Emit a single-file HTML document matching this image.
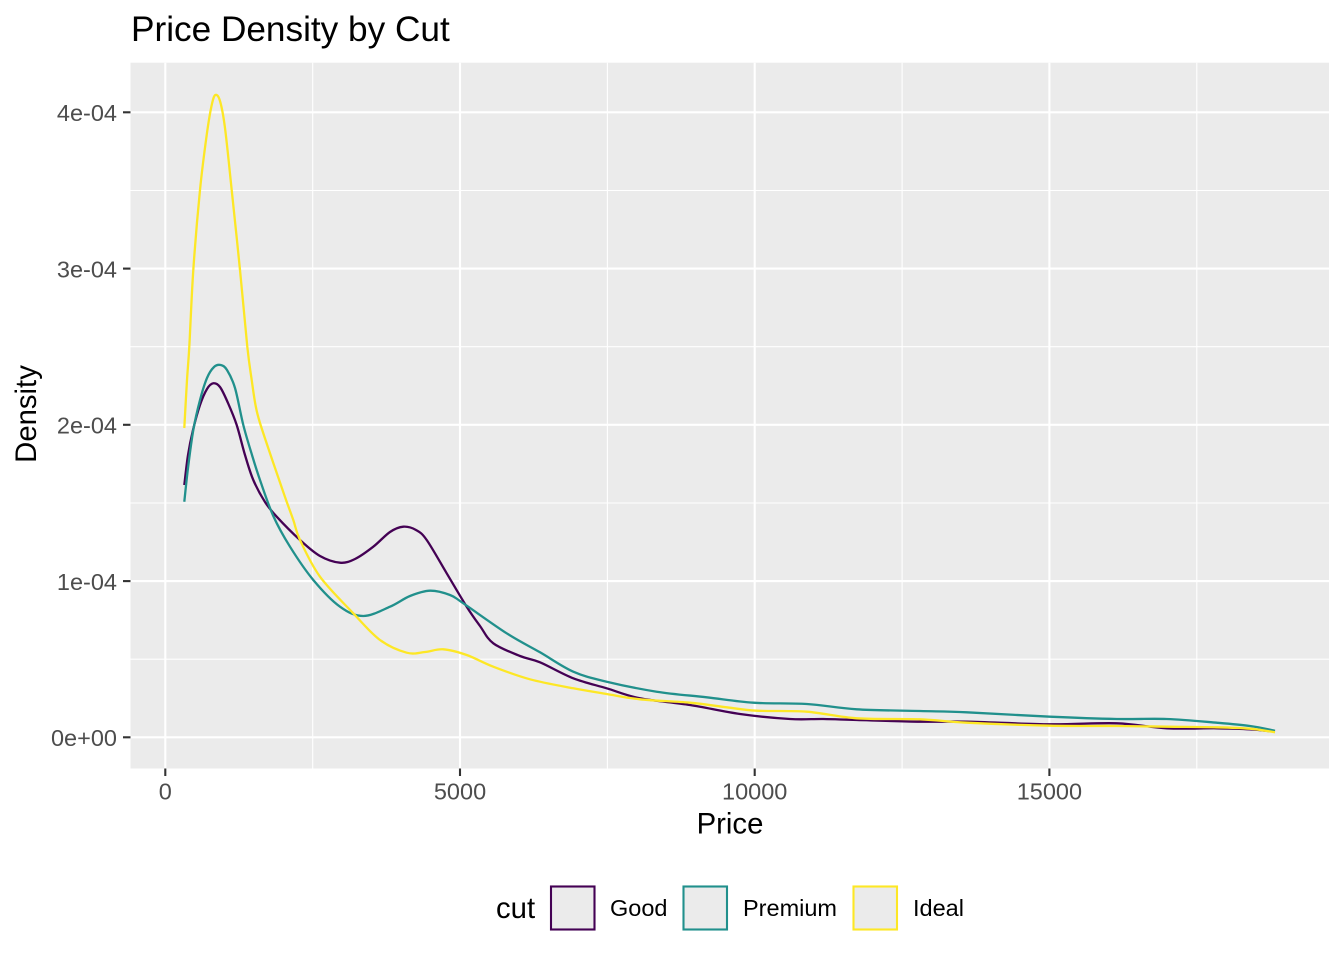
<!DOCTYPE html>
<html>
<head>
<meta charset="utf-8">
<style>
  html, body { margin:0; padding:0; background:#ffffff; }
  svg { display:block; }
  text { font-family: "Liberation Sans", Arial, sans-serif; }
</style>
</head>
<body>
<svg id="chart" width="1344" height="960" viewBox="0 0 1344 960" xmlns="http://www.w3.org/2000/svg">
  <rect x="0" y="0" width="1344" height="960" fill="#ffffff"/>
  <!-- panel -->
  <rect x="130.5" y="62.7" width="1198.5" height="705.8" fill="#EBEBEB"/>
  <!-- minor grid -->
  <g stroke="#ffffff" stroke-width="1.1">
    <line x1="130.5" x2="1329" y1="659.2" y2="659.2"/>
    <line x1="130.5" x2="1329" y1="503.0" y2="503.0"/>
    <line x1="130.5" x2="1329" y1="346.7" y2="346.7"/>
    <line x1="130.5" x2="1329" y1="190.5" y2="190.5"/>
    <line x1="312.7" x2="312.7" y1="62.7" y2="768.5"/>
    <line x1="607.4" x2="607.4" y1="62.7" y2="768.5"/>
    <line x1="902.1" x2="902.1" y1="62.7" y2="768.5"/>
    <line x1="1196.8" x2="1196.8" y1="62.7" y2="768.5"/>
  </g>
  <!-- major grid -->
  <g stroke="#ffffff" stroke-width="2.1">
    <line x1="130.5" x2="1329" y1="737.3" y2="737.3"/>
    <line x1="130.5" x2="1329" y1="581.1" y2="581.1"/>
    <line x1="130.5" x2="1329" y1="424.8" y2="424.8"/>
    <line x1="130.5" x2="1329" y1="268.6" y2="268.6"/>
    <line x1="130.5" x2="1329" y1="112.3" y2="112.3"/>
    <line x1="165.3" x2="165.3" y1="62.7" y2="768.5"/>
    <line x1="460.0" x2="460.0" y1="62.7" y2="768.5"/>
    <line x1="754.7" x2="754.7" y1="62.7" y2="768.5"/>
    <line x1="1049.4" x2="1049.4" y1="62.7" y2="768.5"/>
  </g>

  <!-- Good (purple) -->
  <polyline class="curve" fill="none" stroke="#440154" stroke-width="2.3" stroke-linejoin="round" stroke-linecap="butt"
    points="184.3,485 188,455 193,430 200,405 207,389 213.3,383.3 220,387 228,403 236.7,425 245,455 253.3,480 265,502 276.7,516.7 300,540 320,556 340,562.7 355,559 373.3,546.7 390,532 403.3,526.7 416,530 426.7,540 446.7,573.3 466.7,606.7 480,626 493.3,643.3 520,656 540,662.3 573.3,678.3 606.7,688.3 640,698.3 690,705 740,714 790,719 823.3,719 856.7,720 920,721.7 966.7,721.7 1050,724.3 1116.7,723.3 1166.7,728.3 1216.7,728.3 1250,729.3 1275,731.7"/>

  <!-- Premium (teal) -->
  <polyline class="curve" fill="none" stroke="#21908C" stroke-width="2.3" stroke-linejoin="round" stroke-linecap="butt"
    points="184.3,501.7 188,468 193.3,430 200,400 207,378 214,367 220.7,365 227,370 235,388 243.3,425 252,455 260,480 273.3,516 290,546.7 313.3,580 340,606.7 363.3,616 390,606.7 410,596 430,590.7 450,595 463.3,603.3 506.7,633.3 540,652.3 573.3,671.7 606.7,681.7 656.7,691.7 706.7,697.3 753.3,702.7 806.7,704 856.7,709.3 920,711 966.7,712.3 1050,716.7 1116.7,719 1166.7,719 1216.7,722.7 1250,726 1275,730.7"/>

  <!-- Ideal (yellow) -->
  <polyline class="curve" fill="none" stroke="#FDE725" stroke-width="2.3" stroke-linejoin="round" stroke-linecap="butt"
    points="184.3,428 187,380 189.3,346.7 193.3,270 200,190 206.7,135 211.5,106 215.3,95 220,101 225,128 231.7,190 240,270 247.3,346.7 251.7,380 255.5,405 260,423 273.3,463 285,497 293.3,520 300,540 320,576.7 353.3,613.3 380,640 406.7,652.7 425,652 443.3,649.3 466.7,655 493.3,666.7 530,679.3 573.3,688.3 606.7,694 640,699.3 690,702.7 726.7,707.3 756.7,710.7 806.7,711.7 856.7,718.3 920,719.3 966.7,722.7 1050,725.7 1116.7,726 1166.7,726.7 1216.7,727.3 1250,728.7 1275,732.3"/>

  <!-- axis ticks -->
  <g stroke="#333333" stroke-width="2.1">
    <line x1="123" x2="130.5" y1="737.3" y2="737.3"/>
    <line x1="123" x2="130.5" y1="581.1" y2="581.1"/>
    <line x1="123" x2="130.5" y1="424.8" y2="424.8"/>
    <line x1="123" x2="130.5" y1="268.6" y2="268.6"/>
    <line x1="123" x2="130.5" y1="112.3" y2="112.3"/>
    <line x1="165.3" x2="165.3" y1="768.5" y2="776"/>
    <line x1="460.0" x2="460.0" y1="768.5" y2="776"/>
    <line x1="754.7" x2="754.7" y1="768.5" y2="776"/>
    <line x1="1049.4" x2="1049.4" y1="768.5" y2="776"/>
  </g>

  <!-- y tick labels -->
  <g fill="#4D4D4D" font-size="23.5" text-anchor="end">
    <text x="117" y="746">0e+00</text>
    <text x="117" y="589.8">1e-04</text>
    <text x="117" y="433.5">2e-04</text>
    <text x="117" y="277.3">3e-04</text>
    <text x="117" y="121">4e-04</text>
  </g>
  <!-- x tick labels -->
  <g fill="#4D4D4D" font-size="23.5" text-anchor="middle">
    <text x="165.3" y="799.5">0</text>
    <text x="460.0" y="799.5">5000</text>
    <text x="754.7" y="799.5">10000</text>
    <text x="1049.4" y="799.5">15000</text>
  </g>

  <!-- axis titles -->
  <text x="730" y="833.3" font-size="29.3" text-anchor="middle" fill="#000000">Price</text>
  <text transform="translate(36,414) rotate(-90)" font-size="29.3" text-anchor="middle" fill="#000000">Density</text>

  <!-- title -->
  <text x="131" y="41" font-size="35.2" fill="#000000">Price Density by Cut</text>

  <!-- legend -->
  <text x="496" y="918" font-size="29.3" fill="#000000">cut</text>
  <rect x="551" y="886.5" width="43.5" height="43" fill="#EBEBEB" stroke="#440154" stroke-width="2.1"/>
  <text x="610" y="916" font-size="23.5" fill="#000000">Good</text>
  <rect x="683.5" y="886.5" width="43.5" height="43" fill="#EBEBEB" stroke="#21908C" stroke-width="2.1"/>
  <text x="743" y="916" font-size="23.5" fill="#000000">Premium</text>
  <rect x="853.5" y="886.5" width="43.5" height="43" fill="#EBEBEB" stroke="#FDE725" stroke-width="2.1"/>
  <text x="913" y="916" font-size="23.5" fill="#000000">Ideal</text>
</svg>
<script>
(function(){
  try {
    var NS = "http://www.w3.org/2000/svg";
    var lines = document.querySelectorAll("polyline.curve");
    for (var i = 0; i < lines.length; i++) {
      var pl = lines[i];
      var raw = pl.getAttribute("points").trim().split(/\s+/);
      var p = raw.map(function(s){ var a = s.split(","); return [parseFloat(a[0]), parseFloat(a[1])]; });
      var d = "M" + p[0][0] + "," + p[0][1];
      for (var k = 0; k < p.length - 1; k++) {
        var p0 = p[k > 0 ? k - 1 : 0], p1 = p[k], p2 = p[k + 1], p3 = p[k + 2 < p.length ? k + 2 : p.length - 1];
        var t = 6;
        var c1x = p1[0] + (p2[0] - p0[0]) / t, c1y = p1[1] + (p2[1] - p0[1]) / t;
        var c2x = p2[0] - (p3[0] - p1[0]) / t, c2y = p2[1] - (p3[1] - p1[1]) / t;
        d += " C" + c1x.toFixed(2) + "," + c1y.toFixed(2) + " " + c2x.toFixed(2) + "," + c2y.toFixed(2) + " " + p2[0] + "," + p2[1];
      }
      var path = document.createElementNS(NS, "path");
      path.setAttribute("d", d);
      ["fill","stroke","stroke-width","stroke-linejoin","stroke-linecap"].forEach(function(a){ path.setAttribute(a, pl.getAttribute(a)); });
      pl.parentNode.replaceChild(path, pl);
    }
  } catch (e) {}
})();
</script>
</body>
</html>
